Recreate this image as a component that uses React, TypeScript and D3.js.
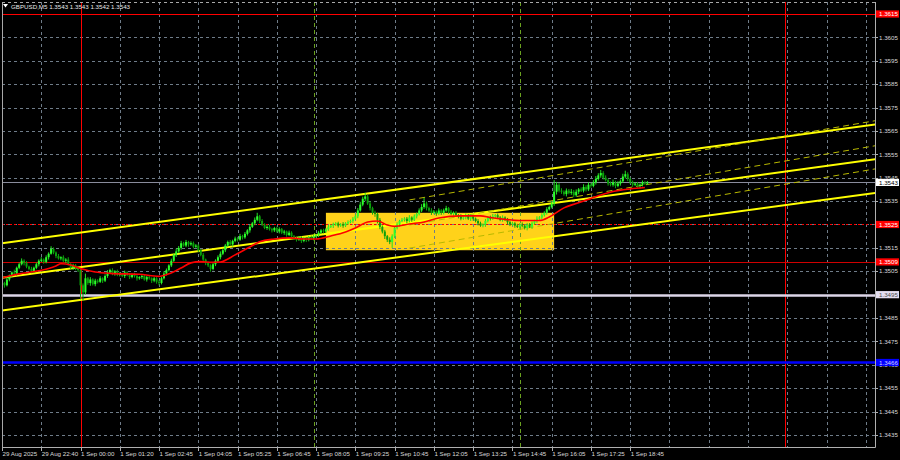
import React from 'react';
import * as d3 from 'd3';

// ---------- data ----------
const titleText = 'GBPUSD,M5  1.3543 1.3543 1.3542 1.3543';
const timeLabels = ['29 Aug 2025', '29 Aug 22:40', '1 Sep 00:00', '1 Sep 01:20', '1 Sep 02:45', '1 Sep 04:05', '1 Sep 05:25', '1 Sep 06:45', '1 Sep 08:05', '1 Sep 09:25', '1 Sep 10:45', '1 Sep 12:05', '1 Sep 13:25', '1 Sep 14:45', '1 Sep 16:05', '1 Sep 17:25', '1 Sep 18:45'];
const timeLabelBars = [0, 16, 32, 48, 64, 80, 96, 112, 128, 144, 160, 176, 192, 208, 224, 240, 256];
const gridBars = [0, 16, 32, 48, 64, 80, 96, 112, 128, 144, 160, 176, 192, 208, 224, 240, 256, 272, 288, 304, 320, 336, 352];
const priceTicks = [1.3435, 1.3445, 1.3455, 1.3465, 1.3475, 1.3485, 1.3495, 1.3505, 1.3515, 1.3525, 1.3535, 1.3545, 1.3555, 1.3565, 1.3575, 1.3585, 1.3595, 1.3605];

const firstOpen = 1.35005;
const closes = [
  1.35000, 1.34990, 1.35015, 1.35030, 1.35045, 1.35040, 1.35065, 1.35080, 1.35095, 1.35085, 1.35070, 1.35060, 1.35050, 1.35065, 1.35080, 1.35095,
  1.35100, 1.35090, 1.35110, 1.35125, 1.35145, 1.35130, 1.35115, 1.35105, 1.35110, 1.35095, 1.35100, 1.35080, 1.35065, 1.35075, 1.35060, 1.35055,
  1.34990, 1.34960, 1.35020, 1.35000, 1.35015, 1.34995, 1.35010, 1.35005, 1.35020, 1.35010, 1.35030, 1.35045, 1.35055, 1.35040, 1.35050, 1.35035,
  1.35040, 1.35030, 1.35045, 1.35035, 1.35025, 1.35035, 1.35030, 1.35020, 1.35025, 1.35030, 1.35015, 1.35025, 1.35020, 1.35010, 1.35020, 1.35005,
  1.35000, 1.35020, 1.35040, 1.35055, 1.35075, 1.35095, 1.35120, 1.35135, 1.35150, 1.35170, 1.35160, 1.35175, 1.35165, 1.35170, 1.35155, 1.35160,
  1.35140, 1.35120, 1.35100, 1.35085, 1.35075, 1.35060, 1.35080, 1.35095, 1.35110, 1.35125, 1.35140, 1.35160, 1.35175, 1.35165, 1.35180, 1.35190,
  1.35185, 1.35200, 1.35195, 1.35210, 1.35225, 1.35240, 1.35255, 1.35270, 1.35285, 1.35265, 1.35250, 1.35235, 1.35240, 1.35230, 1.35225, 1.35235,
  1.35220, 1.35230, 1.35215, 1.35220, 1.35205, 1.35215, 1.35200, 1.35190, 1.35185, 1.35195, 1.35180, 1.35190, 1.35185, 1.35195, 1.35190, 1.35200,
  1.35205, 1.35215, 1.35225, 1.35220, 1.35230, 1.35240, 1.35245, 1.35250, 1.35255, 1.35245, 1.35250, 1.35245, 1.35255, 1.35260, 1.35265, 1.35275,
  1.35285, 1.35310, 1.35335, 1.35360, 1.35370, 1.35340, 1.35320, 1.35300, 1.35295, 1.35270, 1.35240, 1.35220, 1.35200, 1.35185, 1.35175, 1.35200,
  1.35235, 1.35250, 1.35265, 1.35270, 1.35275, 1.35265, 1.35280, 1.35270, 1.35285, 1.35295, 1.35310, 1.35325, 1.35340, 1.35320, 1.35310, 1.35300,
  1.35305, 1.35295, 1.35310, 1.35300, 1.35310, 1.35320, 1.35305, 1.35295, 1.35300, 1.35290, 1.35285, 1.35275, 1.35280, 1.35290, 1.35275, 1.35285,
  1.35275, 1.35265, 1.35255, 1.35245, 1.35250, 1.35265, 1.35280, 1.35275, 1.35285, 1.35290, 1.35280, 1.35270, 1.35280, 1.35270, 1.35260, 1.35250,
  1.35255, 1.35245, 1.35240, 1.35250, 1.35245, 1.35235, 1.35250, 1.35240, 1.35255, 1.35265, 1.35275, 1.35280, 1.35290, 1.35300, 1.35315, 1.35325,
  1.35340, 1.35390, 1.35420, 1.35395, 1.35390, 1.35380, 1.35395, 1.35385, 1.35390, 1.35375, 1.35390, 1.35400, 1.35395, 1.35410, 1.35400, 1.35420,
  1.35415, 1.35430, 1.35445, 1.35460, 1.35470, 1.35450, 1.35440, 1.35425, 1.35420, 1.35430, 1.35415, 1.35425, 1.35435, 1.35455, 1.35465, 1.35445,
  1.35430, 1.35420, 1.35425, 1.35415, 1.35420, 1.35430, 1.35425, 1.35430,
];
// wick lengths in points (0.00001)
const upperWicks = [
  8, 5, 10, 6, 4, 12, 5, 7, 10, 6, 8, 4, 9, 5, 7, 6,
  10, 5, 8, 6, 12, 7, 5, 9, 4, 8, 6, 10, 5, 7, 6, 4,
  5, 8, 20, 6, 10, 5, 8, 6, 9, 4, 7, 10, 6, 8, 5, 7,
  6, 4, 8, 5, 7, 6, 9, 5, 4, 8, 6, 5, 7, 4, 6, 5,
  8, 6, 10, 7, 5, 9, 6, 12, 8, 10, 6, 9, 5, 8, 7, 6,
  6, 5, 8, 4, 7, 5, 9, 6, 8, 10, 5, 7, 6, 9, 5, 8,
  7, 10, 6, 8, 5, 9, 6, 10, 15, 6, 8, 5, 7, 9, 6, 5,
  6, 8, 5, 7, 4, 9, 6, 5, 8, 6, 4, 7, 5, 6, 8, 6,
  5, 8, 6, 7, 5, 9, 6, 8, 5, 7, 6, 10, 5, 8, 6, 7,
  8, 10, 12, 9, 15, 8, 10, 6, 9, 5, 8, 6, 7, 5, 10, 8,
  6, 9, 5, 8, 6, 7, 10, 5, 8, 6, 9, 12, 24, 8, 6, 10,
  7, 5, 9, 6, 8, 10, 5, 7, 6, 8, 5, 9, 6, 7, 5, 8,
  6, 5, 8, 7, 5, 9, 6, 8, 10, 5, 7, 6, 9, 5, 8, 6,
  7, 5, 8, 6, 9, 5, 7, 6, 8, 5, 10, 6, 8, 7, 9, 6,
  10, 50, 12, 8, 10, 6, 9, 7, 12, 8, 10, 6, 9, 12, 8, 10,
  8, 10, 12, 9, 13, 8, 10, 6, 9, 12, 7, 10, 8, 12, 15, 8,
  6, 8, 5, 7, 6, 8, 5, 6,
];
const lowerWicks = [
  6, 10, 5, 8, 7, 4, 9, 6, 5, 10, 7, 6, 8, 5, 6, 9,
  5, 8, 6, 10, 4, 7, 9, 5, 8, 6, 10, 5, 7, 9, 6, 8,
  60, 35, 10, 8, 12, 6, 9, 7, 5, 10, 6, 8, 5, 7, 9, 6,
  7, 5, 9, 6, 8, 5, 7, 10, 6, 8, 5, 9, 6, 10, 7, 8,
  10, 6, 5, 8, 6, 7, 5, 9, 6, 8, 5, 7, 10, 6, 8, 5,
  8, 6, 10, 9, 7, 12, 6, 8, 5, 9, 6, 8, 7, 5, 9, 6,
  8, 5, 9, 6, 7, 10, 5, 8, 6, 9, 7, 5, 8, 6, 9, 7,
  5, 8, 6, 9, 7, 5, 10, 6, 8, 5, 9, 6, 10, 7, 5, 8,
  6, 9, 5, 8, 6, 7, 5, 10, 6, 8, 5, 9, 6, 7, 5, 8,
  6, 8, 5, 7, 9, 6, 10, 8, 12, 15, 10, 8, 12, 10, 9, 25,
  8, 6, 9, 5, 7, 10, 6, 8, 5, 9, 6, 7, 8, 10, 6, 9,
  6, 8, 5, 9, 7, 6, 10, 5, 8, 6, 9, 7, 5, 8, 6, 10,
  8, 6, 9, 5, 7, 10, 6, 8, 5, 9, 7, 6, 8, 5, 10, 7,
  6, 9, 5, 8, 7, 6, 10, 5, 9, 6, 8, 5, 7, 6, 8, 5,
  6, 10, 12, 8, 9, 7, 10, 6, 8, 9, 7, 10, 6, 8, 9, 7,
  8, 6, 9, 7, 10, 8, 6, 9, 7, 8, 10, 6, 9, 7, 8, 10,
  7, 9, 6, 8, 10, 7, 6, 5,
];

// moving average
const maBars = [0, 3, 7, 15, 22, 24, 28, 32, 38, 44, 56, 64, 68, 73, 77, 81, 85, 89, 95, 101, 105, 111, 117, 123, 128, 134, 140, 144, 149, 153, 157, 160, 166, 172, 178, 187, 195, 199, 205, 211, 219, 223, 229, 234, 240, 244, 249, 256, 262];
const maValues = [1.35022, 1.35030, 1.35039, 1.35052, 1.35073, 1.35082, 1.35077, 1.35062, 1.35047, 1.35041, 1.35037, 1.35028, 1.35039, 1.35064, 1.35086, 1.35092, 1.35088, 1.35090, 1.35120, 1.35154, 1.35176, 1.35188, 1.35193, 1.35188, 1.35188, 1.35201, 1.35218, 1.35235, 1.35261, 1.35265, 1.35248, 1.35242, 1.35252, 1.35261, 1.35278, 1.35287, 1.35287, 1.35280, 1.35272, 1.35267, 1.35267, 1.35282, 1.35321, 1.35340, 1.35361, 1.35376, 1.35391, 1.35402, 1.35408];

// horizontal levels
const levelPrices = [1.3615, 1.3525, 1.3509, 1.3495, 1.3466];
const levelLabels = ['1.3615', '1.3525', '1.3509', '1.3495', '1.3466'];
const currentPrice = 1.3543;
const currentLabel = '1.3543';

// rectangle
const rectBars = [132, 225];
const rectPrices = [1.3514, 1.3530];

// vertical lines
const dayLineBars = [32, 319];
const sessionLineBars = [127, 211];

// channels (two anchors each)
const channelBars = [0, 356];
const channelUpper = [1.35170, 1.35678];
const channelMiddle = [1.35022, 1.35529];
const channelLower = [1.34882, 1.35385];
const dashChannelBars = [166, 356];
const dashUpper = [1.35355, 1.35694];
const dashMiddle = [1.35248, 1.35587];
const dashLower = [1.35149, 1.35488];

// ---------- drawing ----------
const L = 2, T = 2, R = 875, B = 447;
const FONT = 'Liberation Sans, Arial, sans-serif';

export default function App() {
  const x = d3.scaleLinear().domain([0, 256]).range([2, 630.2]);
  const y = d3.scaleLinear().domain([1.3435, 1.3615]).range([435, 14]);
  const POINT = 0.00001;

  const candles = closes.map((c, i) => {
    const o = i === 0 ? firstOpen : closes[i - 1];
    const hi = Math.max(o, c) + upperWicks[i] * POINT;
    const lo = Math.min(o, c) - lowerWicks[i] * POINT;
    return { i, o, c, hi, lo };
  });

  const maLine = d3.line<number>()
    .x((_, k) => x(maBars[k]))
    .y((v) => y(v))
    .curve(d3.curveMonotoneX)(maValues) || '';

  const seg = (bars: number[], prices: number[]) => ({ x1: x(bars[0]), y1: y(prices[0]), x2: x(bars[1]), y2: y(prices[1]) });

  const gridColor = '#6f7c89';
  const hy = (p: number) => Math.round(y(p)) + 0.5;
  const vx = (b: number) => Math.round(x(b)) + 0.5;

  const levelStyles = [
    { stroke: '#ff0000', width: 1, dash: undefined, box: '#ff0000', text: '#ffffff' },
    { stroke: '#ff0000', width: 1, dash: '2,2', box: '#ff0000', text: '#ffffff' },
    { stroke: '#d00000', width: 1, dash: undefined, box: '#ff0000', text: '#ffffff' },
    { stroke: '#ddd6e8', width: 2.5, dash: undefined, box: '#e4def0', text: '#505050' },
    { stroke: '#0000ff', width: 2.5, dash: undefined, box: '#0000ff', text: '#d0d0ff' },
  ];

  return (
    <div style={{ position: 'fixed', left: 0, top: 0 }}>
      <svg width={900} height={460} style={{ display: 'block', background: '#000' }}>
        <defs>
          <clipPath id="plot">
            <rect x={L} y={T} width={R - L} height={B - T} />
          </clipPath>
        </defs>
        <rect x={0} y={0} width={900} height={460} fill="#000" />

        <g clipPath="url(#plot)">
          {/* rectangle */}
          <rect x={x(rectBars[0])} y={y(rectPrices[1])} width={x(rectBars[1]) - x(rectBars[0])} height={y(rectPrices[0]) - y(rectPrices[1])} fill="#ffd21a" />

          {/* grid */}
          {priceTicks.map((p) => (
            <line key={'gh' + p} x1={L} x2={R} y1={hy(p)} y2={hy(p)} stroke={gridColor} strokeDasharray="3,3" strokeWidth={1} />
          ))}
          {gridBars.map((b) => (
            <line key={'gv' + b} x1={vx(b)} x2={vx(b)} y1={T} y2={B} stroke={gridColor} strokeDasharray="3,3" strokeWidth={1} />
          ))}

          {/* vertical markers */}
          {dayLineBars.map((b) => (
            <line key={'dl' + b} x1={vx(b)} x2={vx(b)} y1={T} y2={B} stroke="#ff0000" strokeWidth={1} />
          ))}
          {sessionLineBars.map((b) => (
            <line key={'sl' + b} x1={vx(b)} x2={vx(b)} y1={T} y2={B} stroke="#6aa020" strokeDasharray="4,3" strokeWidth={1} />
          ))}

          {/* horizontal levels */}
          {levelPrices.map((p, k) => (
            <line key={'lv' + p} x1={L} x2={R} y1={hy(p)} y2={hy(p)} stroke={levelStyles[k].stroke} strokeWidth={levelStyles[k].width} strokeDasharray={levelStyles[k].dash} />
          ))}
          <line x1={L} x2={R} y1={hy(currentPrice)} y2={hy(currentPrice)} stroke="#8a8c9c" strokeWidth={1} />

          {/* channels */}
          {[channelUpper, channelMiddle, channelLower].map((c, k) => {
            const s = seg(channelBars, c);
            return <line key={'ch' + k} {...s} stroke="#ffff00" strokeWidth={2} />;
          })}
          {[dashUpper, dashMiddle, dashLower].map((c, k) => {
            const s = seg(dashChannelBars, c);
            return <line key={'dc' + k} {...s} stroke="#b8b800" strokeWidth={1} strokeDasharray="6,4" />;
          })}

          {/* candles */}
          {candles.map((d) => {
            const cx = x(d.i);
            const up = d.c >= d.o;
            const top = y(Math.max(d.o, d.c));
            const h = Math.max(1, Math.abs(y(d.o) - y(d.c)));
            const col = up ? '#2cff2c' : '#0b9f0b';
            return (
              <g key={'c' + d.i}>
                <line x1={cx} x2={cx} y1={y(d.hi)} y2={y(d.lo)} stroke={up ? '#22e022' : '#0ca80c'} strokeWidth={1} />
                <rect x={cx - 1} y={top} width={2} height={h} fill={col} />
              </g>
            );
          })}

          {/* moving average */}
          <path d={maLine} fill="none" stroke="#ff0000" strokeWidth={1.6} />
        </g>

        {/* frame */}
        <line x1={L + 0.5} x2={L + 0.5} y1={T} y2={B} stroke="#a8a8a8" strokeWidth={1} />
        <line x1={L} x2={R} y1={T + 0.5} y2={T + 0.5} stroke="#a8a8a8" strokeDasharray="3,3" strokeWidth={1} />
        <line x1={L} x2={R + 0.5} y1={B + 0.5} y2={B + 0.5} stroke="#b0b0b0" strokeWidth={1} />
        <line x1={R + 0.5} x2={R + 0.5} y1={T} y2={B + 0.5} stroke="#b0b0b0" strokeWidth={1} />

        {/* title */}
        <polygon points="3,4 8,4 5.5,7.5" fill="#ffffff" />
        <text x={11} y={9} fill="#e8e8e8" fontFamily={FONT} fontSize={6.2}>{titleText}</text>

        {/* price axis */}
        {priceTicks.map((p) => (
          <g key={'pt' + p}>
            <line x1={R} x2={R + 3} y1={hy(p)} y2={hy(p)} stroke="#b0b0b0" />
            <text x={879} y={y(p) + 2.2} fill="#d8d8d8" fontFamily={FONT} fontSize={6.2}>{p.toFixed(4)}</text>
          </g>
        ))}
        {levelPrices.map((p, k) => (
          <g key={'lb' + p}>
            <rect x={876} y={y(p) - 3.6} width={23} height={7.2} fill={levelStyles[k].box} />
            <text x={879} y={y(p) + 2.2} fill={levelStyles[k].text} fontFamily={FONT} fontSize={6.2}>{levelLabels[k]}</text>
          </g>
        ))}
        <rect x={876} y={y(currentPrice) - 3.6} width={23} height={7.2} fill="#ffffff" />
        <text x={879} y={y(currentPrice) + 2.2} fill="#000000" fontFamily={FONT} fontSize={6.2}>{currentLabel}</text>

        {/* time axis */}
        {timeLabelBars.map((b, k) => (
          <g key={'tl' + b}>
            <line x1={vx(b)} x2={vx(b)} y1={B} y2={B + 4} stroke="#b0b0b0" />
            <text x={x(b) + 0.5} y={455.5} fill="#d8d8d8" fontFamily={FONT} fontSize={6.2}>{timeLabels[k]}</text>
          </g>
        ))}
      </svg>
    </div>
  );
}
